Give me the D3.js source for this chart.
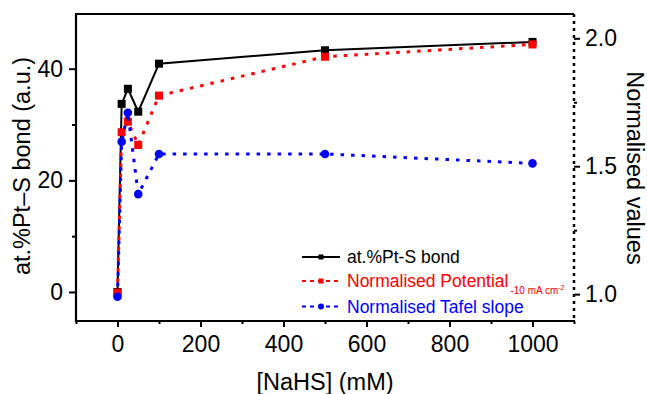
<!DOCTYPE html>
<html>
<head>
<meta charset="utf-8">
<script src="https://cdnjs.cloudflare.com/ajax/libs/d3/7.8.5/d3.min.js"></script>
<style>
  body { margin: 0; background: #fff; }
  svg { display: block; font-family: "Liberation Sans", Arial, sans-serif; }
</style>
</head>
<body>
<script>
// NaHS concentrations (mM)
const nahs = [0, 10, 25, 50, 100, 500, 1000];
// left axis series
const ptSBond = [0, 33.7, 36.4, 32.3, 40.9, 43.3, 44.8];
// right axis series
const normPotential = [1.006, 1.633, 1.674, 1.583, 1.776, 1.928, 1.976];
const normTafel = [0.99, 1.596, 1.709, 1.391, 1.548, 1.548, 1.511];

const xTicks = [0, 200, 400, 600, 800, 1000];
const xMinor = [-100, 100, 300, 500, 700, 900, 1100];
const yLeftTicks = [0, 20, 40];
const yLeftMinor = [10, 30];
const yRightTicks = [1.0, 1.5, 2.0];
const yRightMinor = [1.25, 1.75];

const width = 647, height = 394;
const margin = { left: 76, right: 73, top: 14, bottom: 73 };
const chartWidth = width - margin.left - margin.right;
const chartHeight = height - margin.top - margin.bottom;

const svg = d3.select("body")
    .append("svg")
    .attr("width", width)
    .attr("height", height);

const g = svg.append("g")
    .attr("transform", "translate(" + margin.left + "," + margin.top + ")");

const xScale = d3.scaleLinear().domain([-100, 1100]).range([0, chartWidth]);
const yLeft = d3.scaleLinear().domain([-5.2, 49.8]).range([chartHeight, 0]);
const yRight = d3.scaleLinear().domain([0.895, 2.095]).range([chartHeight, 0]);

const tickFont = 23;

function styleAxis(sel) {
  sel.select(".domain").remove();
  sel.selectAll(".tick line").attr("stroke", "#000").attr("stroke-width", 2);
  sel.selectAll(".tick text")
      .attr("font-size", tickFont)
      .attr("fill", "#000")
      .attr("font-family", "Liberation Sans, Arial, sans-serif");
}

// bottom axis
g.append("g")
    .attr("transform", "translate(0," + chartHeight + ")")
    .call(d3.axisBottom(xScale).tickValues(xTicks).tickSize(6).tickPadding(9).tickFormat(d3.format("d")))
    .call(styleAxis);
g.append("g")
    .attr("transform", "translate(0," + chartHeight + ")")
    .call(d3.axisBottom(xScale).tickValues(xMinor).tickSize(3).tickFormat(""))
    .call(styleAxis);

// left axis
g.append("g")
    .call(d3.axisLeft(yLeft).tickValues(yLeftTicks).tickSize(7).tickPadding(6).tickFormat(d3.format("d")))
    .call(styleAxis);
g.append("g")
    .call(d3.axisLeft(yLeft).tickValues(yLeftMinor).tickSize(4).tickFormat(""))
    .call(styleAxis);

// right axis
g.append("g")
    .attr("transform", "translate(" + chartWidth + ",0)")
    .call(d3.axisRight(yRight).tickValues(yRightTicks).tickSize(6).tickPadding(5).tickFormat(d3.format(".1f")))
    .call(styleAxis);
g.append("g")
    .attr("transform", "translate(" + chartWidth + ",0)")
    .call(d3.axisRight(yRight).tickValues(yRightMinor).tickSize(3).tickFormat(""))
    .call(styleAxis);

// frame lines
g.append("line").attr("x1", 0).attr("x2", 0).attr("y1", 0).attr("y2", chartHeight + 1)
    .attr("stroke", "#000").attr("stroke-width", 2.2);
g.append("line").attr("x1", -1).attr("x2", chartWidth + 1).attr("y1", chartHeight).attr("y2", chartHeight)
    .attr("stroke", "#000").attr("stroke-width", 2.2);
g.append("line").attr("x1", -1).attr("x2", chartWidth).attr("y1", 0).attr("y2", 0)
    .attr("stroke", "#000").attr("stroke-width", 2);
g.append("line").attr("x1", chartWidth).attr("x2", chartWidth).attr("y1", 0).attr("y2", chartHeight)
    .attr("stroke", "#000").attr("stroke-width", 2.5).attr("stroke-dasharray", "3,4");

// axis titles
svg.append("text")
    .attr("x", margin.left + chartWidth / 2)
    .attr("y", 390)
    .attr("text-anchor", "middle")
    .attr("font-size", 23.5)
    .text("[NaHS] (mM)");

svg.append("text")
    .attr("transform", "translate(30," + (margin.top + 152) + ") rotate(-90)")
    .attr("text-anchor", "middle")
    .attr("font-size", 23.5)
    .text("at.%Pt\u2013S bond (a.u.)");

svg.append("text")
    .attr("transform", "translate(627," + (margin.top + 154) + ") rotate(90)")
    .attr("text-anchor", "middle")
    .attr("font-size", 23.5)
    .text("Normalised values");

// series
const seriesList = [
  { values: ptSBond, scale: yLeft, color: "#000", dash: null, width: 2, marker: "square", size: 8 },
  { values: normPotential, scale: yRight, color: "#ff0000", dash: "3.5,7", width: 3, marker: "square", size: 8 },
  { values: normTafel, scale: yRight, color: "#0000ff", dash: "3.5,7", width: 3, marker: "circle", size: 4.3 }
];

seriesList.forEach(function (s) {
  const pts = nahs.map(function (x, i) { return [x, s.values[i]]; });
  const line = d3.line()
      .x(function (d) { return xScale(d[0]); })
      .y(function (d) { return s.scale(d[1]); });

  const path = g.append("path")
      .datum(pts)
      .attr("d", line)
      .attr("fill", "none")
      .attr("stroke", s.color)
      .attr("stroke-width", s.width);
  if (s.dash) path.attr("stroke-dasharray", s.dash);

  if (s.marker === "square") {
    g.append("g")
        .selectAll("rect")
        .data(pts)
        .enter()
        .append("rect")
        .attr("x", function (d) { return xScale(d[0]) - s.size / 2; })
        .attr("y", function (d) { return s.scale(d[1]) - s.size / 2; })
        .attr("width", s.size)
        .attr("height", s.size)
        .attr("fill", s.color);
  } else {
    g.append("g")
        .selectAll("circle")
        .data(pts)
        .enter()
        .append("circle")
        .attr("cx", function (d) { return xScale(d[0]); })
        .attr("cy", function (d) { return s.scale(d[1]); })
        .attr("r", s.size)
        .attr("fill", s.color);
  }
});

// legend
const legend = svg.append("g");
const legendRows = [
  { y: 257, color: "#000", dash: null, marker: "square", label: "at.%Pt-S bond" },
  { y: 281, color: "#ff0000", dash: "4,4", marker: "square", label: "Normalised Potential" },
  { y: 306.5, color: "#0000ff", dash: "4,4", marker: "circle", label: "Normalised Tafel slope" }
];

legendRows.forEach(function (r) {
  const ln = legend.append("line")
      .attr("x1", 302).attr("x2", 340)
      .attr("y1", r.y).attr("y2", r.y)
      .attr("stroke", r.color)
      .attr("stroke-width", r.dash ? 2.2 : 2);
  if (r.dash) ln.attr("stroke-dasharray", r.dash);
  if (r.marker === "square") {
    legend.append("rect")
        .attr("x", 318.5).attr("y", r.y - 2.5)
        .attr("width", 5).attr("height", 5)
        .attr("fill", r.color);
  } else {
    legend.append("circle")
        .attr("cx", 321).attr("cy", r.y)
        .attr("r", 3).attr("fill", r.color);
  }
  const t = legend.append("text")
      .attr("x", 347)
      .attr("y", r.y + 6)
      .attr("font-size", 17.5)
      .attr("fill", r.color)
      .text(r.label);
  if (r.label === "Normalised Potential") {
    t.append("tspan").attr("font-size", 10).attr("dy", 7).attr("dx", 2).text("-10 mA cm");
    t.append("tspan").attr("font-size", 7).attr("dy", -4).text("-2");
  }
});
</script>
</body>
</html>
